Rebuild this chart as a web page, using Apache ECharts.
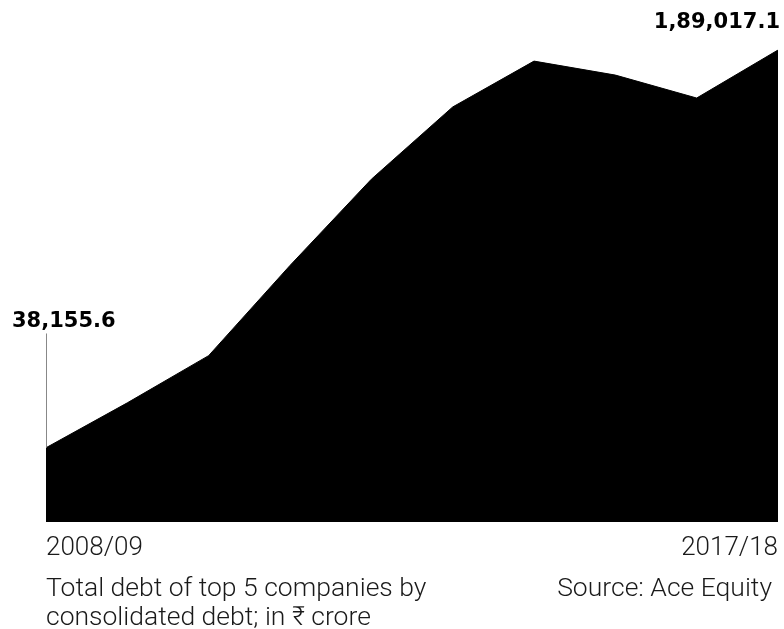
<!DOCTYPE html>
<html>
<head>
<meta charset="utf-8">
<script src="https://cdn.jsdelivr.net/npm/echarts@6/dist/echarts.min.js"></script>
<style>
html,body{margin:0;padding:0;background:#fff;}
#main{width:784px;height:629px;}
</style>
</head>
<body>
<div id="main"></div>
<script>
var years = ['2008/09','2009/10','2010/11','2011/12','2012/13','2013/14','2014/15','2015/16','2016/17','2017/18'];
var debt = [38155.6, 55200, 73100, 107300, 140000, 167400, 184800, 179500, 170800, 189017.1];
var endLabels = ['38,155.6', '1,89,017.1'];

var myChart = echarts.init(document.getElementById('main'));

var seriesData = debt.map(function(v, i){
    var item = {value: v};
    if(i == 0){
        item.label = {
            show: true, position: 'top', distance: 116, align: 'left', offset: [-34, 0],
            formatter: endLabels[0]
        };
    }else if(i == debt.length - 1){
        item.label = {
            show: true, position: 'top', distance: 17, align: 'right', offset: [2, 0],
            formatter: endLabels[1]
        };
    }
    return item;
});

var option = {
    backgroundColor: '#fff',
    animation: false,
    title: [
        {
            text: 'Total debt of top 5 companies by\nconsolidated debt; in ₹ crore',
            left: 46, top: 575, padding: 0,
            textStyle: {fontFamily: 'Roboto', fontWeight: 300, fontSize: 26.5, lineHeight: 29, color: '#1a1a1a'}
        },
        {
            text: 'Source: Ace Equity',
            right: 12, top: 575, padding: 0,
            textStyle: {fontFamily: 'Roboto', fontWeight: 300, fontSize: 26.5, lineHeight: 29, color: '#1a1a1a'}
        }
    ],
    grid: {left: 46, right: 6, top: 50, bottom: 107},
    xAxis: {
        type: 'category',
        data: years,
        boundaryGap: false,
        axisLine: {show: false},
        axisTick: {show: false},
        axisLabel: {
            interval: function(idx){ return idx == 0 || idx == years.length - 1; },
            alignMinLabel: 'left',
            alignMaxLabel: 'right',
            margin: 13,
            fontFamily: 'Roboto', fontWeight: 300, fontSize: 26, color: '#1a1a1a'
        }
    },
    yAxis: {
        type: 'value',
        min: 10000,
        max: 189017.1,
        show: false,
        splitLine: {show: false}
    },
    series: [
        {
            type: 'line',
            data: seriesData,
            symbol: 'circle',
            symbolSize: 0,
            showSymbol: true,
            lineStyle: {color: '#000', width: 1},
            itemStyle: {color: '#000'},
            areaStyle: {color: '#000', opacity: 1},
            label: {
                show: false,
                fontFamily: 'DejaVu Sans', fontWeight: 'bold', fontSize: 21, color: '#000'
            },
            markLine: {
                silent: true,
                symbol: 'none',
                label: {show: false},
                lineStyle: {color: '#888', width: 1, type: 'solid'},
                data: [[{coord: [0, debt[0]]}, {coord: [0, 81500]}]]
            }
        }
    ]
};
myChart.setOption(option);
</script>
</body>
</html>
